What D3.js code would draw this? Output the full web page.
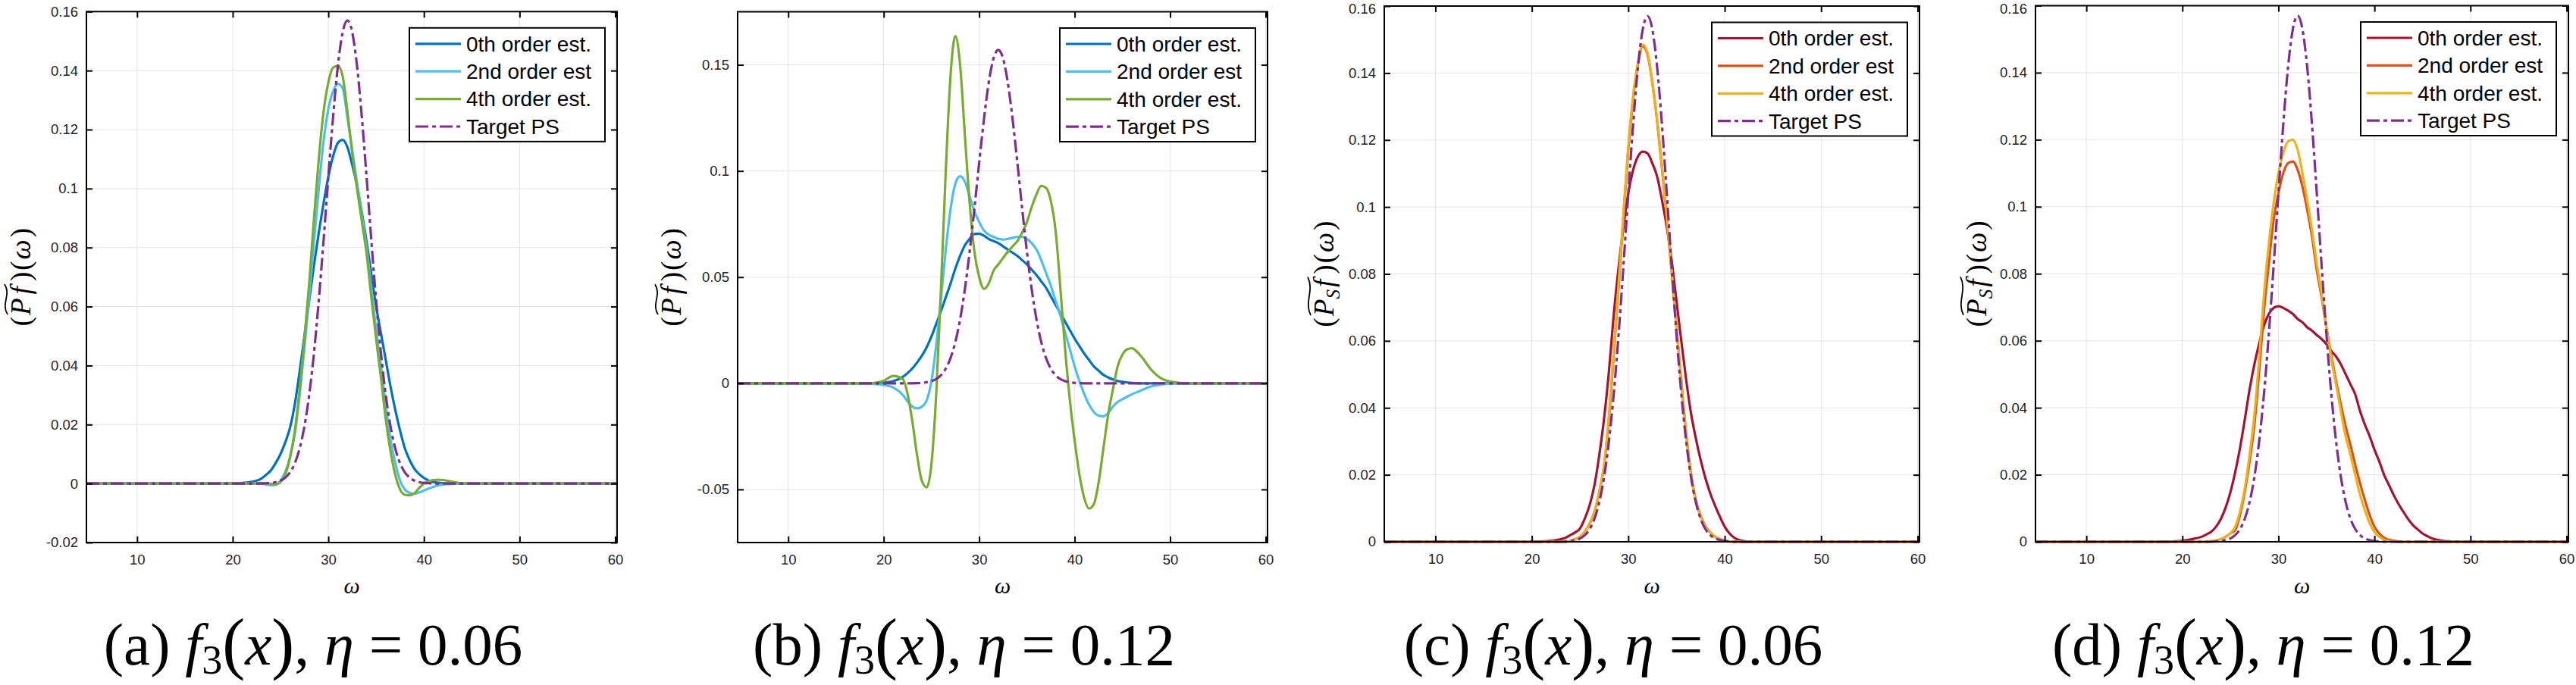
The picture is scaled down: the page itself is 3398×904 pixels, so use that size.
<!DOCTYPE html>
<html><head><meta charset="utf-8">
<script src="https://cdn.jsdelivr.net/npm/d3@7"></script>
<style>
body{margin:0;background:#fff;}
svg{display:block;background:#fff;}
.tick text{font-family:"Liberation Sans",Arial,sans-serif;font-size:18.5px;fill:#222;}
</style></head><body>
<svg id="chart" width="3398" height="904"></svg>
<script>
// ---------------- DATA ----------------
const omega = [4.7, 10, 15, 18, 19, 20, 21,
  22, 22.5, 23, 23.5, 24, 24.5, 25, 25.5, 26, 26.5,
  27, 27.5, 28, 28.5, 29, 29.5, 30, 30.5, 31, 31.5,
  32, 32.5, 33, 33.5, 34, 34.5, 35, 35.5, 36, 36.5,
  37, 37.5, 38, 38.5, 39, 39.5, 40, 40.5, 41, 41.5,
  42, 42.5, 43, 43.5, 44, 44.5, 45, 45.5, 46, 46.5,
  47, 48, 49, 50, 52, 55, 60.2];

const targetPS = [0, 0, 0, 0, 0, 0, 0,
  0, 0, 0, 0.0001, 0.0002, 0.0005, 0.0010, 0.0020, 0.0038, 0.0069,
  0.0119, 0.0194, 0.0301, 0.0443, 0.0620, 0.0823, 0.1039, 0.1244, 0.1416, 0.1530,
  0.1570, 0.1530, 0.1416, 0.1244, 0.1039, 0.0823, 0.0620, 0.0443, 0.0301, 0.0194,
  0.0119, 0.0069, 0.0038, 0.0020, 0.0010, 0.0005, 0.0002, 0.0001, 0, 0,
  0, 0, 0, 0, 0, 0, 0, 0, 0, 0,
  0, 0, 0, 0, 0, 0, 0];

// (a) P, eta = 0.06
const a0 = [0, 0, 0, 0, 0, 0.0001, 0.0002,
  0.0006, 0.001, 0.0017, 0.003, 0.0045, 0.007, 0.010, 0.014, 0.019, 0.027,
  0.038, 0.050, 0.062, 0.074, 0.085, 0.095, 0.104, 0.111, 0.1155, 0.1165,
  0.114, 0.108, 0.101, 0.092, 0.082, 0.071, 0.060, 0.051, 0.042, 0.033,
  0.025, 0.018, 0.012, 0.008, 0.005, 0.0032, 0.0019, 0.001, 0.0005, 0.0003,
  0.0001, 0, 0, 0, 0, 0, 0, 0, 0, 0,
  0, 0, 0, 0, 0, 0, 0];
const a2 = [0, 0, 0, 0, 0, 0, 0,
  0, 0, 0, -0.0003, -0.0006, -0.0004, 0.001, 0.004, 0.009, 0.017,
  0.030, 0.046, 0.063, 0.082, 0.100, 0.116, 0.127, 0.133, 0.1355, 0.134,
  0.124, 0.113, 0.102, 0.091, 0.080, 0.066, 0.052, 0.040, 0.027, 0.015,
  0.007, 0.001, -0.002, -0.0032, -0.0035, -0.003, -0.0024, -0.0017, -0.0011, -0.0006,
  -0.0003, -0.0002, -0.0001, 0, 0, 0, 0, 0, 0, 0,
  0, 0, 0, 0, 0, 0, 0];
const a4 = [0, 0, 0, 0, 0, 0, 0,
  0, 0, 0.0002, 0.0001, -0.0001, -0.0003, 0.0005, 0.003, 0.009, 0.018,
  0.032, 0.049, 0.068, 0.090, 0.110, 0.126, 0.136, 0.141, 0.1416, 0.138,
  0.126, 0.112, 0.100, 0.089, 0.078, 0.063, 0.049, 0.036, 0.022, 0.011,
  0.003, -0.002, -0.0038, -0.004, -0.0033, -0.0015, 0, 0.0008, 0.0012, 0.0013,
  0.0012, 0.0009, 0.0006, 0.0003, 0.0001, 0, 0, 0, 0, 0,
  0, 0, 0, 0, 0, 0, 0];

// (b) P, eta = 0.12
const b0 = [0, 0, 0, 0, 0.0001, 0.0003, 0.001,
  0.003, 0.0048, 0.007, 0.0098, 0.013, 0.017, 0.022, 0.028, 0.034, 0.0405,
  0.047, 0.054, 0.060, 0.065, 0.068, 0.0703, 0.0705, 0.0695, 0.068, 0.067,
  0.066, 0.0645, 0.063, 0.0615, 0.060, 0.058, 0.056, 0.0535, 0.051, 0.048,
  0.045, 0.041, 0.037, 0.033, 0.029, 0.025, 0.021, 0.0175, 0.014, 0.011,
  0.008, 0.006, 0.004, 0.0028, 0.0018, 0.0011, 0.0007, 0.0004, 0.0002, 0.0001,
  0, 0, 0, 0, 0, 0, 0];
const b2 = [0, 0, 0, 0, -0.0003, -0.0008, -0.002,
  -0.0055, -0.0085, -0.011, -0.0118, -0.011, -0.008, 0.001, 0.018, 0.040, 0.063,
  0.082, 0.094, 0.0975, 0.095, 0.088, 0.081, 0.076, 0.072, 0.070, 0.069,
  0.068, 0.0677, 0.068, 0.0685, 0.069, 0.069, 0.068, 0.066, 0.063, 0.058,
  0.052, 0.046, 0.039, 0.032, 0.024, 0.016, 0.008, 0.001, -0.005, -0.010,
  -0.0135, -0.0152, -0.0155, -0.014, -0.011, -0.0088, -0.0075, -0.0063, -0.0052, -0.0042,
  -0.0033, -0.0015, -0.0006, -0.0001, 0, 0, 0];
const b4 = [0, 0, 0, 0, 0.0002, 0.0012, 0.0035,
  0.002, -0.005, -0.018, -0.034, -0.046, -0.049, -0.038, -0.005, 0.045, 0.100,
  0.145, 0.1635, 0.150, 0.117, 0.085, 0.062, 0.050, 0.0445, 0.047, 0.053,
  0.056, 0.059, 0.062, 0.0645, 0.067, 0.071, 0.076, 0.083, 0.089, 0.093,
  0.092, 0.086, 0.072, 0.045, 0.016, -0.008, -0.027, -0.043, -0.054, -0.059,
  -0.057, -0.047, -0.031, -0.015, -0.003, 0.008, 0.0135, 0.016, 0.0165, 0.015,
  0.0125, 0.0065, 0.0025, 0.0008, 0, 0, 0];

// (c) P_S, eta = 0.06
const c0 = [0, 0, 0, 0, 0, 0, 0.0001,
  0.0003, 0.0005, 0.0008, 0.0012, 0.002, 0.0028, 0.004, 0.007, 0.011, 0.017,
  0.026, 0.037, 0.051, 0.068, 0.082, 0.094, 0.104, 0.111, 0.115, 0.1165,
  0.116, 0.113, 0.109, 0.102, 0.094, 0.084, 0.072, 0.060, 0.0485, 0.0385,
  0.031, 0.0245, 0.019, 0.0145, 0.0108, 0.0075, 0.0045, 0.0025, 0.0012, 0.0005,
  0.0002, 0, 0, 0, 0, 0, 0, 0, 0, 0,
  0, 0, 0, 0, 0, 0, 0];
const c2 = [0, 0, 0, 0, 0, 0, 0,
  0, 0, 0, 0, 0.0003, 0.0008, 0.0015, 0.003, 0.0055, 0.009,
  0.015, 0.023, 0.037, 0.056, 0.076, 0.097, 0.117, 0.132, 0.1425, 0.148,
  0.1455, 0.137, 0.1255, 0.1115, 0.0965, 0.0805, 0.064, 0.048, 0.0325, 0.0205,
  0.0125, 0.0078, 0.0047, 0.0028, 0.0015, 0.0008, 0.0003, 0.0001, 0, 0,
  0, 0, 0, 0, 0, 0, 0, 0, 0, 0,
  0, 0, 0, 0, 0, 0, 0];
const c4 = [0, 0, 0, 0, 0, 0, 0,
  0, 0, 0, 0, 0.0003, 0.0008, 0.0015, 0.003, 0.0055, 0.009,
  0.015, 0.023, 0.038, 0.057, 0.077, 0.098, 0.118, 0.133, 0.143, 0.1485,
  0.146, 0.137, 0.126, 0.112, 0.097, 0.081, 0.064, 0.048, 0.032, 0.020,
  0.012, 0.0075, 0.0045, 0.0027, 0.0014, 0.0007, 0.0003, 0.0001, 0, 0,
  0, 0, 0, 0, 0, 0, 0, 0, 0, 0,
  0, 0, 0, 0, 0, 0, 0];

// (d) P_S, eta = 0.12
const d0 = [0, 0, 0, 0, 0.0001, 0.0003, 0.0008,
  0.0015, 0.0022, 0.003, 0.0045, 0.0068, 0.0102, 0.0148, 0.0208, 0.028, 0.0365,
  0.0455, 0.053, 0.0592, 0.0645, 0.068, 0.0698, 0.0703, 0.0698, 0.069, 0.068,
  0.0665, 0.0655, 0.064, 0.063, 0.0617, 0.0605, 0.059, 0.057, 0.0553, 0.053,
  0.050, 0.047, 0.044, 0.039, 0.035, 0.0315, 0.0275, 0.024, 0.020, 0.017,
  0.014, 0.0113, 0.009, 0.0068, 0.005, 0.0037, 0.0025, 0.0017, 0.001, 0.0006,
  0.0003, 0.0001, 0, 0, 0, 0, 0];
const d2 = [0, 0, 0, 0, 0, 0, 0,
  0, 0, 0.0002, 0.0004, 0.0008, 0.0015, 0.0025, 0.0035, 0.008, 0.015,
  0.024, 0.035, 0.051, 0.069, 0.083, 0.096, 0.104, 0.110, 0.113, 0.1135,
  0.111, 0.106, 0.099, 0.091, 0.081, 0.073, 0.064, 0.0557, 0.048, 0.041,
  0.0345, 0.029, 0.023, 0.0175, 0.0125, 0.008, 0.0045, 0.0025, 0.0012, 0.0006,
  0.0003, 0.0001, 0, 0, 0, 0, 0, 0, 0, 0,
  0, 0, 0, 0, 0, 0, 0];
const d4 = [0, 0, 0, 0, 0, 0, 0,
  0, 0, 0.0002, 0.0004, 0.0008, 0.0014, 0.0025, 0.0045, 0.009, 0.016,
  0.026, 0.038, 0.055, 0.074, 0.089, 0.101, 0.110, 0.116, 0.1195, 0.120,
  0.117, 0.110, 0.102, 0.093, 0.083, 0.074, 0.064, 0.0547, 0.047, 0.039,
  0.0314, 0.026, 0.020, 0.014, 0.0095, 0.0055, 0.003, 0.0015, 0.0006, 0.0002,
  0.0001, 0, 0, 0, 0, 0, 0, 0, 0, 0,
  0, 0, 0, 0, 0, 0, 0];

const seriesNames = ["0th order est.", "2nd order est", "4th order est.", "Target PS"];
const xDomain = [4.7, 60.2];
const xTicks = [10, 20, 30, 40, 50, 60];
const yTicksA = [-0.02, 0, 0.02, 0.04, 0.06, 0.08, 0.1, 0.12, 0.14, 0.16];
const yTicksB = [-0.05, 0, 0.05, 0.1, 0.15];
const yTicksCD = [0, 0.02, 0.04, 0.06, 0.08, 0.1, 0.12, 0.14, 0.16];
const captionLetters = ["(a)", "(b)", "(c)", "(d)"];
const captionEtas = ["0.06", "0.12", "0.06", "0.12"];

// ---------------- STYLE / LAYOUT ----------------
const blueColors = ["#0072BD", "#4DBEEE", "#77AC30"];
const redColors = ["#A2142F", "#D95319", "#EDB120"];
const targetColor = "#7E2F8E";

const panels = [
  {L:114, R:814, T:15.3, B:716, yDom:[-0.02,0.16], yTicks:yTicksA, est:[a0,a2,a4], colors:blueColors, sub:false, labX:-74},
  {L:973, R:1672, T:15.5, B:716, yDom:[-0.075,0.175], yTicks:yTicksB, est:[b0,b2,b4], colors:blueColors, sub:false, labX:-75},
  {L:1826, R:2532, T:8, B:715, yDom:[0,0.16], yTicks:yTicksCD, est:[c0,c2,c4], colors:redColors, sub:true, labX:-67},
  {L:2685, R:3388, T:7.5, B:715, yDom:[0,0.16], yTicks:yTicksCD, est:[d0,d2,d4], colors:redColors, sub:true, labX:-65}
];

const svg = d3.select("#chart");
const fmt = v => String(+v.toFixed(4));
const serif = '"Liberation Serif","Times New Roman",serif';
const sans = '"Liberation Sans",Arial,sans-serif';

function yLabel(cx, cy, withSub){
  const g = svg.append("g").attr("transform", `translate(${cx},${cy}) rotate(-90)`);
  const inner = g.append("g");
  const fs = 37;
  const pieces = withSub
    ? [["(",0,1,2],["P",1,1,0],["S",1,0.68,3],["f",1,1,7],[")",0,1,2],["(",0,1,2],["ω",1,1,3],[")",0,1,0]]
    : [["(",0,1,2],["P",1,1,5],["f",1,1,7],[")",0,1,2],["(",0,1,2],["ω",1,1,3],[")",0,1,0]];
  let cur = 0, pStart = 0, fEnd = 0;
  pieces.forEach(([t,it,sc,gap]) => {
    const tx = inner.append("text").attr("x", cur).attr("y", sc < 1 ? 8 : 0)
      .attr("font-family", serif).attr("font-size", fs*sc)
      .attr("font-style", it ? "italic" : "normal").attr("fill", "#000").text(t);
    const w = tx.node().getComputedTextLength();
    if (t === "P") pStart = cur;
    cur += w;
    if (t === "f") fEnd = cur + 3;
    cur += gap;
  });
  inner.attr("transform", `translate(${-cur/2},0)`);
  const x0 = pStart + 1, x1 = fEnd, w = x1 - x0, yc = -32;
  inner.append("path")
    .attr("d", `M${x0},${yc+2} C${x0+w*0.35},${yc-7} ${x0+w*0.65},${yc+7} ${x1},${yc-2}`)
    .attr("fill", "none").attr("stroke", "#000").attr("stroke-width", 1.8);
}

panels.forEach((p, pi) => {
  const x = d3.scaleLinear().domain(xDomain).range([p.L, p.R]);
  const y = d3.scaleLinear().domain(p.yDom).range([p.B, p.T]);

  // grid
  const grid = svg.append("g").attr("stroke", "#e4e4e4").attr("stroke-width", 1);
  grid.selectAll(".gx").data(xTicks).join("line")
    .attr("x1", d => x(d)).attr("x2", d => x(d)).attr("y1", p.T).attr("y2", p.B);
  grid.selectAll(".gy").data(p.yTicks).join("line")
    .attr("x1", p.L).attr("x2", p.R).attr("y1", d => y(d)).attr("y2", d => y(d));

  // lines
  const line = d3.line().x(d => x(d[0])).y(d => y(d[1])).curve(d3.curveMonotoneX);
  p.est.forEach((vals, i) => {
    svg.append("path").datum(omega.map((w, k) => [w, vals[k]]))
      .attr("d", line).attr("fill", "none").attr("stroke", p.colors[i])
      .attr("stroke-width", 3.2).attr("stroke-linejoin", "round");
  });
  svg.append("path").datum(omega.map((w, k) => [w, targetPS[k]]))
    .attr("d", line).attr("fill", "none").attr("stroke", targetColor)
    .attr("stroke-width", 3.2).attr("stroke-dasharray", "17,5,5,5");

  // axes
  const styleAxis = g => {
    g.select(".domain").remove();
    g.selectAll(".tick line").attr("stroke", "#000").attr("stroke-width", 2);
  };
  svg.append("g").attr("transform", `translate(0,${p.B})`)
    .call(d3.axisBottom(x).tickValues(xTicks).tickSizeInner(-8).tickSizeOuter(0).tickPadding(16))
    .call(styleAxis);
  svg.append("g").attr("transform", `translate(0,${p.T})`)
    .call(d3.axisTop(x).tickValues(xTicks).tickSizeInner(-8).tickSizeOuter(0).tickFormat(() => ""))
    .call(styleAxis);
  svg.append("g").attr("transform", `translate(${p.L},0)`)
    .call(d3.axisLeft(y).tickValues(p.yTicks).tickSizeInner(-8).tickSizeOuter(0).tickPadding(11).tickFormat(fmt))
    .call(styleAxis)
    .call(g => g.selectAll(".tick text").attr("dy", d => (y(d) < 12 ? "0.52em" : "0.32em")));
  svg.append("g").attr("transform", `translate(${p.R},0)`)
    .call(d3.axisRight(y).tickValues(p.yTicks).tickSizeInner(-8).tickSizeOuter(0).tickFormat(() => ""))
    .call(styleAxis);
  svg.append("rect").attr("x", p.L).attr("y", p.T).attr("width", p.R - p.L).attr("height", p.B - p.T)
    .attr("fill", "none").attr("stroke", "#000").attr("stroke-width", 2);

  // legend
  const lw = 258, lh = 150;
  const lg = svg.append("g").attr("transform", `translate(${p.R - 16 - lw},${p.T + 21.5})`);
  lg.append("rect").attr("width", lw).attr("height", lh).attr("fill", "#fff")
    .attr("stroke", "#000").attr("stroke-width", 2);
  seriesNames.forEach((name, i) => {
    const yy = 21 + i * 36.4;
    const isT = i === 3;
    lg.append("line").attr("x1", 8).attr("x2", 68).attr("y1", yy).attr("y2", yy)
      .attr("stroke", isT ? targetColor : p.colors[i]).attr("stroke-width", 3.2)
      .attr("stroke-dasharray", isT ? "17,5,5,5" : null);
    lg.append("text").attr("x", 75).attr("y", yy).attr("dy", "0.35em")
      .attr("font-family", sans).attr("font-size", 28).attr("fill", "#000").text(name);
  });

  // axis labels
  svg.append("text").attr("x", (p.L + p.R) / 2).attr("y", 783)
    .attr("text-anchor", "middle").attr("font-family", serif).attr("font-style", "italic")
    .attr("font-size", 30).text("ω");
  yLabel(p.L + p.labX, (p.T + p.B) / 2, p.sub);

  // caption
  const cap = svg.append("text").attr("x", (p.L + p.R) / 2 - 51).attr("y", 877)
    .attr("text-anchor", "middle").attr("font-family", serif).attr("font-size", 79).attr("fill", "#000");
  cap.append("tspan").text(captionLetters[pi] + " ");
  cap.append("tspan").attr("font-style", "italic").text("f");
  cap.append("tspan").attr("font-size", 54).attr("dy", 12).text("3");
  cap.append("tspan").attr("font-size", 90).attr("dy", -10).text("(");
  cap.append("tspan").attr("font-style", "italic").attr("dy", -2).text("x");
  cap.append("tspan").attr("font-size", 90).attr("dy", 2).text(")");
  cap.append("tspan").attr("dy", -2).text(", ");
  cap.append("tspan").attr("font-style", "italic").text("η");
  cap.append("tspan").text(" = " + captionEtas[pi]);
});
</script>
</body></html>
